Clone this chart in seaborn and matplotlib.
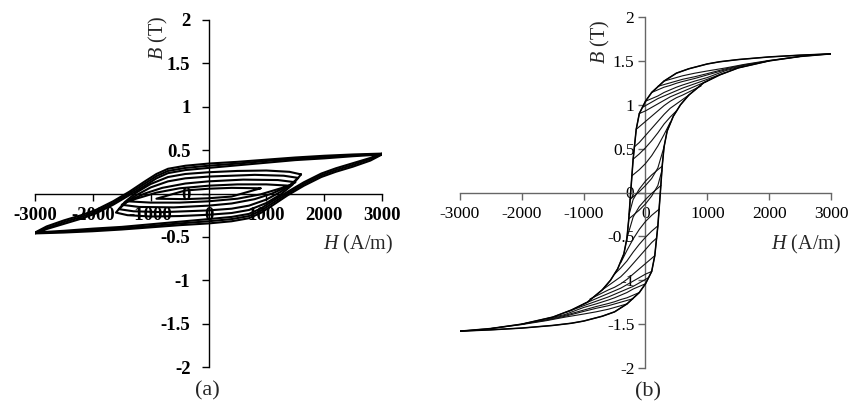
import numpy as np
import pandas as pd
import matplotlib
matplotlib.use("Agg")
import matplotlib.pyplot as plt
import seaborn as sns

# ---------------- data ----------------
# Panel (a): descending (upper) branches of the loops, H in A/m, B in T.
# Each loop is point-symmetric about the origin, so the ascending branch is (-H, -B).
a_outer_H = [3000, 2500, 2000, 1500, 1000, 500, 0, -400, -700, -900, -1100,
             -1370, -1650, -1950, -2200, -2500, -2800, -3000]
a_outer1_B = [0.46, 0.45, 0.435, 0.415, 0.39, 0.365, 0.345, 0.32, 0.285, 0.225, 0.14,
              0.02, -0.09, -0.19, -0.25, -0.31, -0.38, -0.45]
a_outer2_B = [0.455, 0.44, 0.42, 0.40, 0.375, 0.345, 0.32, 0.295, 0.26, 0.20, 0.115,
              0.0, -0.11, -0.21, -0.27, -0.33, -0.40, -0.455]
a_outer3_B = [0.45, 0.43, 0.405, 0.385, 0.355, 0.325, 0.295, 0.27, 0.235, 0.175, 0.09,
              -0.02, -0.13, -0.23, -0.29, -0.35, -0.41, -0.46]

a_inner_H = [
    [1600, 1400, 1000, 500, 0, -400, -700, -1000, -1250, -1450, -1600],
    [1550, 1300, 800, 0, -400, -700, -1000, -1250, -1400, -1550],
    [1500, 1200, 600, 0, -400, -800, -1100, -1300, -1500],
    [1400, 1000, 500, 0, -500, -900, -1200, -1400],
    [900, 400, 0, -400, -900],
]
a_inner_B = [
    [0.22, 0.25, 0.265, 0.26, 0.245, 0.225, 0.19, 0.11, 0.01, -0.10, -0.22],
    [0.18, 0.205, 0.215, 0.195, 0.175, 0.14, 0.07, -0.02, -0.09, -0.18],
    [0.13, 0.155, 0.16, 0.14, 0.115, 0.065, 0.0, -0.06, -0.13],
    [0.09, 0.105, 0.105, 0.09, 0.06, 0.01, -0.05, -0.09],
    [0.06, 0.065, 0.055, 0.035, -0.06],
]

# Panel (b): ascending branch of the major loop (descending branch is (-H, -B)).
b_major_H = [-3000, -2500, -2000, -1500, -1200, -1000, -700, -500, -300, -100, 0,
             100, 150, 200, 240, 270, 300, 350, 450, 566, 700, 940, 1200, 1500,
             2000, 2500, 3000]
b_major_B = [-1.58, -1.565, -1.545, -1.515, -1.49, -1.465, -1.41, -1.36, -1.27,
             -1.14, -1.04, -0.90, -0.72, -0.38, 0.0, 0.30, 0.52, 0.70, 0.87, 1.0,
             1.11, 1.25, 1.34, 1.42, 1.50, 1.55, 1.58]

# Reversal curves starting on the descending branch and rising to the ascending one;
# the mirrored set (-H, -B) starts on the ascending branch.
b_rev_H = [
    [300, 400, 500, 600, 800, 1000, 1300, 1600, 2000, 2500],
    [200, 300, 400, 500, 600, 800, 1000, 1300, 1600, 2000],
    [100, 200, 300, 400, 500, 600, 800, 1000, 1300, 1600, 2000],
    [0, 100, 200, 300, 400, 500, 600, 800, 1000, 1300, 1600],
    [-50, 0, 100, 200, 300, 400, 500, 600, 800, 1000, 1300],
    [-100, 0, 100, 200, 300, 400, 500, 600, 800, 1000],
    [-150, -100, 0, 100, 200, 300, 400, 500, 600, 800, 900],
    [-180, -100, 0, 100, 200, 300, 400, 500, 600, 700],
    [-200, -100, 0, 100, 200, 300, 400, 500],
    [-220, -100, 0, 100, 200, 300, 400],
    [-250, -200, -100, 0, 100, 200, 300],
    [-270, -200, -100, 0, 100, 200, 265],
]
b_rev_B = [
    [1.27, 1.29, 1.31, 1.33, 1.36, 1.385, 1.42, 1.46, 1.505, 1.55],
    [1.21, 1.23, 1.25, 1.27, 1.29, 1.32, 1.355, 1.41, 1.455, 1.50],
    [1.14, 1.17, 1.20, 1.22, 1.245, 1.265, 1.30, 1.34, 1.40, 1.45, 1.50],
    [1.04, 1.07, 1.10, 1.14, 1.17, 1.20, 1.225, 1.27, 1.31, 1.39, 1.44],
    [0.97, 0.99, 1.03, 1.07, 1.10, 1.13, 1.16, 1.19, 1.24, 1.29, 1.37],
    [0.90, 0.93, 0.97, 1.01, 1.05, 1.09, 1.12, 1.15, 1.21, 1.27],
    [0.72, 0.75, 0.81, 0.87, 0.93, 0.99, 1.04, 1.08, 1.11, 1.18, 1.215],
    [0.52, 0.57, 0.65, 0.73, 0.81, 0.89, 0.96, 1.01, 1.06, 1.11],
    [0.38, 0.44, 0.51, 0.59, 0.68, 0.78, 0.86, 0.93],
    [0.19, 0.26, 0.33, 0.42, 0.53, 0.66, 0.80],
    [-0.08, -0.05, 0.01, 0.08, 0.16, 0.28, 0.52],
    [-0.30, -0.26, -0.20, -0.13, -0.04, 0.08, 0.25],
]

x_ticks = [-3000, -2000, -1000, 0, 1000, 2000, 3000]
y_ticks = [-2, -1.5, -1, -0.5, 0, 0.5, 1, 1.5, 2]
y_tick_labels = ["-2", "-1.5", "-1", "-0.5", "0", "0.5", "1", "1.5", "2"]

# ---------------- style ----------------
SERIF = "Liberation Serif"
sns.set_theme(style="white")
plt.rcParams["font.family"] = SERIF
plt.rcParams["mathtext.fontset"] = "custom"
plt.rcParams["mathtext.it"] = SERIF + ":italic"
plt.rcParams["mathtext.rm"] = SERIF
plt.rcParams["axes.unicode_minus"] = False


def frame(name, h, b):
    return pd.DataFrame({"H": h, "B": b, "curve": name})


def loop_rows(name, h, b):
    h = np.asarray(h, float)
    b = np.asarray(b, float)
    return frame(name, np.concatenate([h, -h]), np.concatenate([b, -b]))


# long table for panel (a)
parts_a = [loop_rows("o1", a_outer_H, a_outer1_B),
           loop_rows("o2", a_outer_H, a_outer2_B),
           loop_rows("o3", a_outer_H, a_outer3_B)]
for i, (h, b) in enumerate(zip(a_inner_H, a_inner_B)):
    parts_a.append(loop_rows(f"i{i}", h, b))
df_a = pd.concat(parts_a, ignore_index=True)

# long table for panel (b)
mh = np.asarray(b_major_H, float)
mb = np.asarray(b_major_B, float)
parts_b = [frame("asc", mh, mb), frame("desc", -mh, -mb)]
for i, (h, b) in enumerate(zip(b_rev_H, b_rev_B)):
    h = np.asarray(h, float)
    b = np.asarray(b, float)
    parts_b.append(frame(f"up{i}", h, b))
    parts_b.append(frame(f"dn{i}", -h, -b))
df_b = pd.concat(parts_b, ignore_index=True)

W, Hpx = 850, 405
fig = plt.figure(figsize=(W / 100, Hpx / 100), dpi=100)
ax_a = fig.add_axes([35 / W, 1 - 367 / Hpx, 347 / W, 347 / Hpx])
ax_b = fig.add_axes([460 / W, 1 - 368 / Hpx, 371 / W, 351 / Hpx])

sns.lineplot(data=df_a, x="H", y="B", units="curve", estimator=None, sort=False,
             color="black", linewidth=1.5, ax=ax_a, zorder=3)
sns.lineplot(data=df_b, x="H", y="B", units="curve", estimator=None, sort=False,
             color="#111111", linewidth=0.8, ax=ax_b, zorder=3)
# major loop in (b) slightly heavier
sns.lineplot(data=df_b[df_b["curve"].isin(["asc", "desc"])], x="H", y="B",
             units="curve", estimator=None, sort=False, color="black",
             linewidth=1.1, ax=ax_b, zorder=3)


def style_axes(ax, spine_color, bold, size, ypad):
    ax.set_xlim(-3000, 3000)
    ax.set_ylim(-2, 2)
    ax.set_facecolor("none")
    for s in ("top", "right"):
        ax.spines[s].set_visible(False)
    for s in ("left", "bottom"):
        ax.spines[s].set_position(("data", 0))
        ax.spines[s].set_color(spine_color)
        ax.spines[s].set_linewidth(1.0)
        ax.spines[s].set_zorder(2)
    ax.set_xticks(x_ticks)
    ax.set_xticklabels([str(t) for t in x_ticks])
    ax.set_yticks(y_ticks)
    ax.set_yticklabels(y_tick_labels)
    weight = "bold" if bold else "normal"
    ax.tick_params(axis="x", direction="out", length=5, width=1.0, color=spine_color,
                   pad=5, labelsize=size, labelcolor="black", bottom=True)
    ax.tick_params(axis="y", direction="out", length=5, width=1.0, color=spine_color,
                   pad=ypad, labelsize=size, labelcolor="black", left=True)
    for lab in ax.get_xticklabels() + ax.get_yticklabels():
        lab.set_fontfamily(SERIF)
        lab.set_fontweight(weight)
        lab.set_zorder(1)
    ax.set_xlabel("")
    ax.set_ylabel("")
    ax.grid(False)


style_axes(ax_a, "black", True, 13.5, 8)
style_axes(ax_b, "#666666", False, 12.5, 3)


def px(x, y):
    return x / W, 1 - y / Hpx


for (x, y) in [(358, 244), (806, 244)]:
    fig.text(*px(x, y), r"$H$ (A/m)", fontsize=14.5, ha="center", va="center",
             family=SERIF)
for (x, y) in [(158, 38), (600, 42)]:
    fig.text(*px(x, y), r"$B$ (T)", fontsize=14.5, ha="center", va="center",
             rotation=90, family=SERIF)
fig.text(*px(207, 391), "(a)", fontsize=16, ha="center", va="center", family=SERIF)
fig.text(*px(648, 392), "(b)", fontsize=16, ha="center", va="center", family=SERIF)

fig.savefig("out.png", dpi=100)
